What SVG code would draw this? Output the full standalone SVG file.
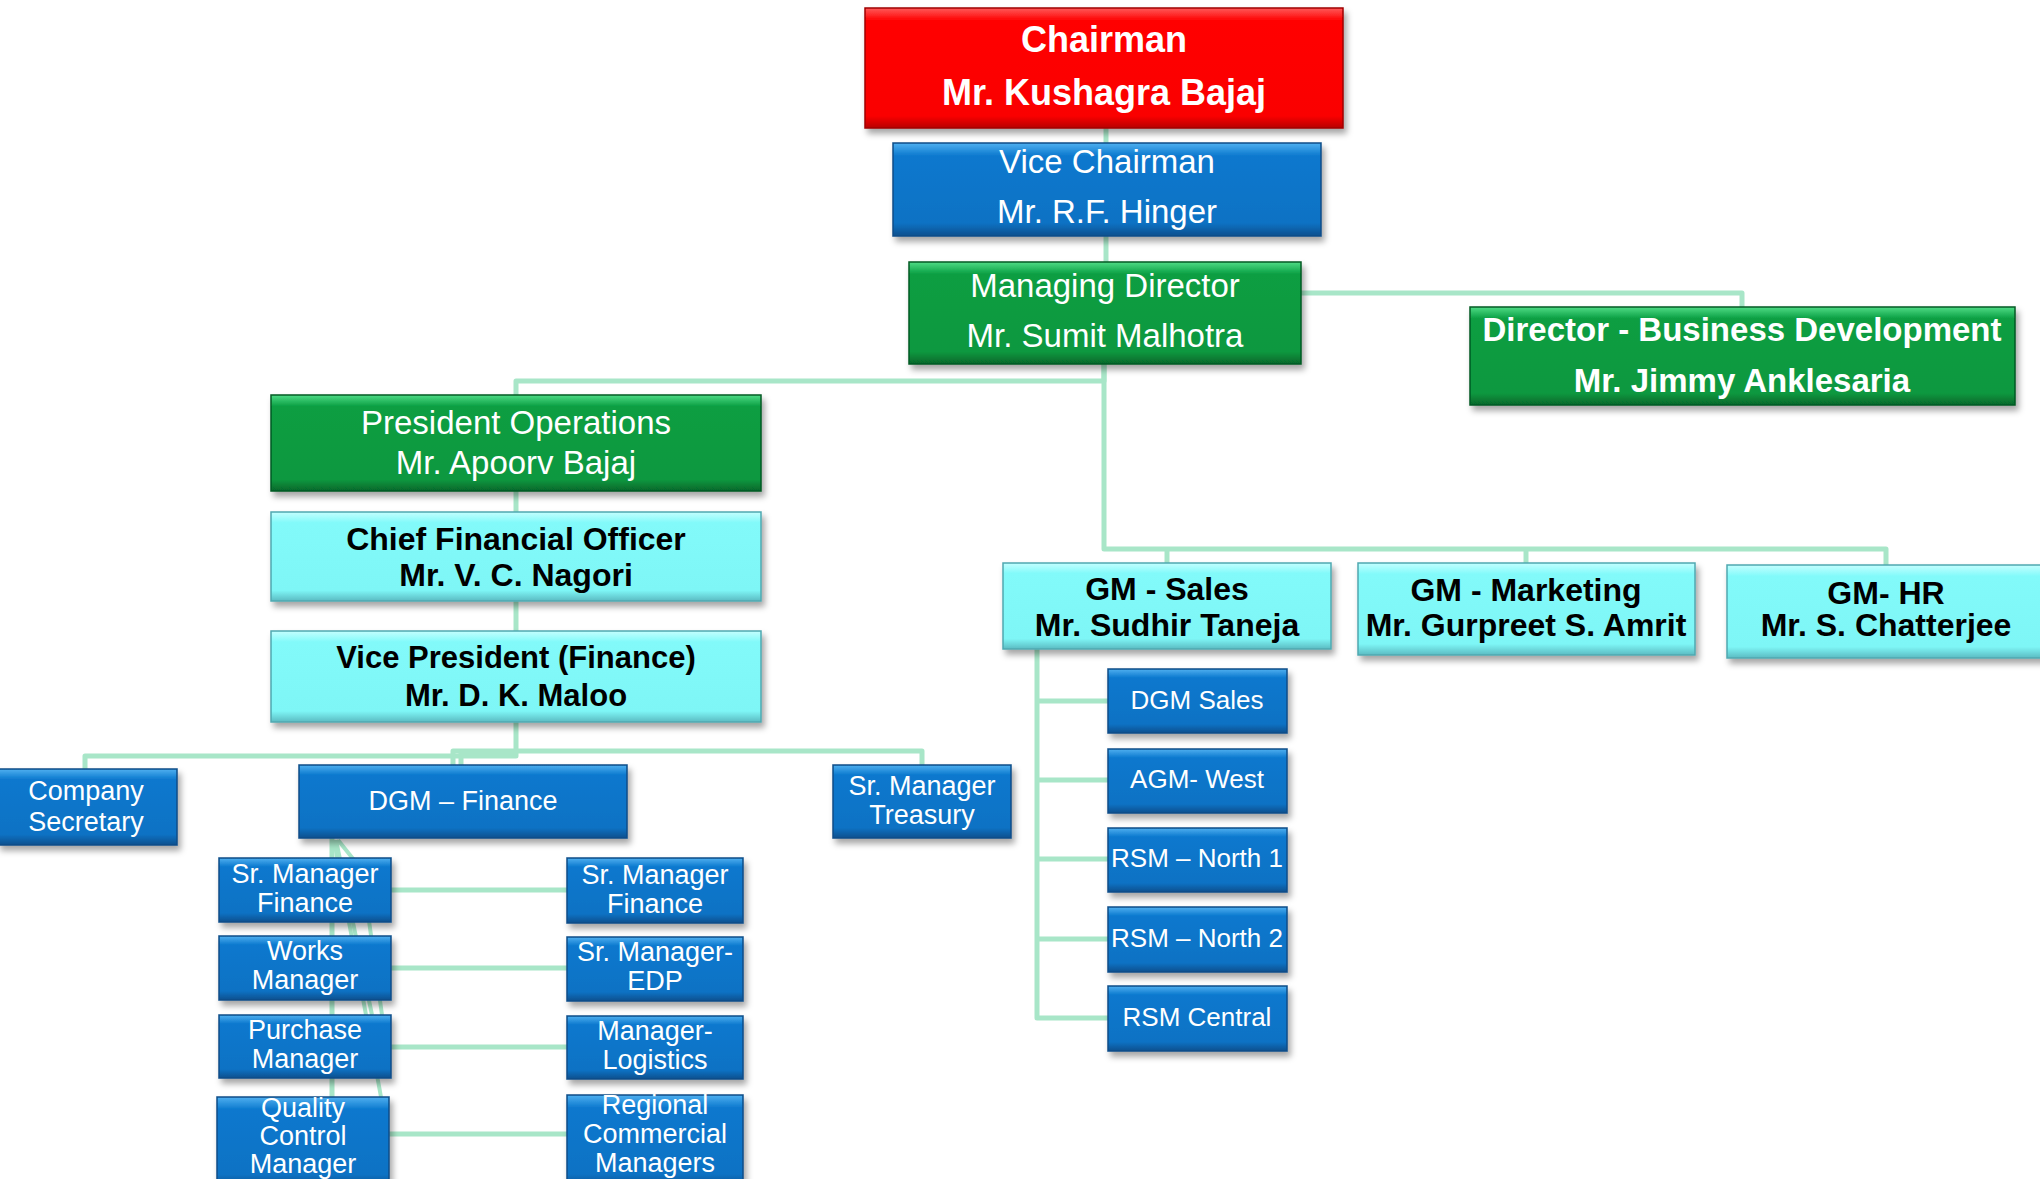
<svg xmlns="http://www.w3.org/2000/svg" width="2040" height="1179" viewBox="0 0 2040 1179">
<defs>
<linearGradient id="gBlue" x1="0" y1="0" x2="0" y2="1">
<stop offset="0" stop-color="#4FB0F0"/><stop offset="0.14" stop-color="#0B78CE"/><stop offset="0.86" stop-color="#0A72C4"/><stop offset="1" stop-color="#09508E"/>
</linearGradient>
<linearGradient id="gRed" x1="0" y1="0" x2="0" y2="1">
<stop offset="0" stop-color="#FF5A5A"/><stop offset="0.1" stop-color="#FF0606"/><stop offset="0.9" stop-color="#FA0505"/><stop offset="1" stop-color="#B80000"/>
</linearGradient>
<linearGradient id="gGreen" x1="0" y1="0" x2="0" y2="1">
<stop offset="0" stop-color="#4EDC86"/><stop offset="0.12" stop-color="#0A9E42"/><stop offset="0.88" stop-color="#09983F"/><stop offset="1" stop-color="#06672B"/>
</linearGradient>
<linearGradient id="gCyan" x1="0" y1="0" x2="0" y2="1">
<stop offset="0" stop-color="#C4FFFF"/><stop offset="0.12" stop-color="#82FAFA"/><stop offset="0.88" stop-color="#7EF6F6"/><stop offset="1" stop-color="#5BBBC2"/>
</linearGradient>
<filter id="sh" x="-10%" y="-10%" width="120%" height="140%">
<feDropShadow dx="3" dy="5" stdDeviation="3" flood-color="#000" flood-opacity="0.35"/>
</filter>
</defs>
<style>
.conn{fill:none;stroke:#A8E6C8;stroke-width:5;stroke-linejoin:round;stroke-linecap:butt}
.diag{fill:none;stroke:#A8E6C8;stroke-width:4}
.blue{fill:url(#gBlue);stroke:#0A4C88;stroke-width:1.5;filter:url(#sh)}
.red{fill:url(#gRed);stroke:#A00000;stroke-width:1.5;filter:url(#sh)}
.green{fill:url(#gGreen);stroke:#055A25;stroke-width:1.5;filter:url(#sh)}
.cyan{fill:url(#gCyan);stroke:#4FA8B0;stroke-width:1.5;filter:url(#sh)}
text{font-family:"Liberation Sans",Arial,sans-serif;text-anchor:middle}
.w{fill:#FFFFFF}
.k{fill:#000000}
.b{font-weight:bold}
.s36{font-size:36px}
.s33{font-size:33px}
.s32{font-size:32px}
.s31{font-size:31px}
.s27{font-size:27px}
.s26{font-size:26px}
</style>
<rect x="0" y="0" width="2040" height="1179" fill="#FFFFFF"/>
<g id="connectors">
<path class="conn" d="M1106,128 V143"/>
<path class="conn" d="M1106,235 V263"/>
<path class="conn" d="M1104,363 V381 H516 V395"/>
<path class="conn" d="M1104,363 V549 H1886 V565"/>
<path class="conn" d="M1167,549 V563"/>
<path class="conn" d="M1526,549 V563"/>
<path class="conn" d="M1300,293 H1742 V307"/>
<path class="conn" d="M516,491 V512"/>
<path class="conn" d="M516,601 V631"/>
<path class="conn" d="M516,722 V756 H85 V769"/>
<path class="conn" d="M453,765 V751 H922 V765"/>
<path class="conn" d="M461,765 V753 H516"/>
<path class="conn" d="M1037,649 V1018 H1108"/>
<path class="conn" d="M1037,701 H1108"/>
<path class="conn" d="M1037,780 H1108"/>
<path class="conn" d="M1037,859 H1108"/>
<path class="conn" d="M1037,939 H1108"/>
<path class="conn" d="M332,838 V1179"/>
<path class="diag" d="M334,840 L381,1097"/>
<path class="diag" d="M336,840 L372,1015"/>
<path class="diag" d="M338,840 L362,870 L382,1015"/>
<path class="conn" d="M390,890 H567"/>
<path class="conn" d="M390,968 H567"/>
<path class="conn" d="M390,1047 H567"/>
<path class="conn" d="M389,1134 H567"/>
</g>
<g id="chairman"><rect class="red" x="865" y="8" width="478" height="120"/>
<text class="w b s36" x="1104" y="52">Chairman</text><text class="w b s36" x="1104" y="105">Mr. Kushagra Bajaj</text></g>
<g id="vice-chairman"><rect class="blue" x="893" y="143" width="428" height="93"/>
<text class="w s33" x="1107" y="173">Vice Chairman</text><text class="w s33" x="1107" y="223">Mr. R.F. Hinger</text></g>
<g id="managing-director"><rect class="green" x="909" y="262" width="392" height="102"/>
<text class="w s33" x="1105" y="297">Managing Director</text><text class="w s33" x="1105" y="347">Mr. Sumit Malhotra</text></g>
<g id="director-bd"><rect class="green" x="1470" y="307" width="545" height="98"/>
<text class="w b s33" x="1742" y="341">Director - Business Development</text><text class="w b s33" x="1742" y="392">Mr. Jimmy Anklesaria</text></g>
<g id="president-operations"><rect class="green" x="271" y="395" width="490" height="96"/>
<text class="w s33" x="516" y="434">President Operations</text><text class="w s33" x="516" y="474">Mr. Apoorv Bajaj</text></g>
<g id="cfo"><rect class="cyan" x="271" y="512" width="490" height="89"/>
<text class="k b s32" x="516" y="550">Chief Financial Officer</text><text class="k b s32" x="516" y="586">Mr. V. C. Nagori</text></g>
<g id="vp-finance"><rect class="cyan" x="271" y="631" width="490" height="91"/>
<text class="k b s31" x="516" y="668">Vice President (Finance)</text><text class="k b s31" x="516" y="706">Mr. D. K. Maloo</text></g>
<g id="gm-sales"><rect class="cyan" x="1003" y="563" width="328" height="86"/>
<text class="k b s32" x="1167" y="600">GM - Sales</text><text class="k b s32" x="1167" y="636">Mr. Sudhir Taneja</text></g>
<g id="gm-marketing"><rect class="cyan" x="1358" y="563" width="337" height="92"/>
<text class="k b s32" x="1526" y="601">GM - Marketing</text><text class="k b s32" x="1526" y="636">Mr. Gurpreet S. Amrit</text></g>
<g id="gm-hr"><rect class="cyan" x="1727" y="565" width="320" height="93"/>
<text class="k b s32" x="1886" y="604">GM- HR</text><text class="k b s32" x="1886" y="636">Mr. S. Chatterjee</text></g>
<g id="company-secretary"><rect class="blue" x="-2" y="769" width="179" height="76"/>
<text class="w s27" x="86" y="800">Company</text><text class="w s27" x="86" y="831">Secretary</text></g>
<g id="dgm-finance"><rect class="blue" x="299" y="765" width="328" height="73"/>
<text class="w s27" x="463" y="810">DGM – Finance</text></g>
<g id="sr-manager-treasury"><rect class="blue" x="833" y="765" width="178" height="73"/>
<text class="w s27" x="922" y="795">Sr. Manager</text><text class="w s27" x="922" y="824">Treasury</text></g>
<g id="sr-manager-finance-1"><rect class="blue" x="219" y="858" width="172" height="64"/>
<text class="w s27" x="305" y="883">Sr. Manager</text><text class="w s27" x="305" y="912">Finance</text></g>
<g id="works-manager"><rect class="blue" x="219" y="936" width="172" height="64"/>
<text class="w s27" x="305" y="960">Works</text><text class="w s27" x="305" y="989">Manager</text></g>
<g id="purchase-manager"><rect class="blue" x="219" y="1015" width="172" height="63"/>
<text class="w s27" x="305" y="1039">Purchase</text><text class="w s27" x="305" y="1068">Manager</text></g>
<g id="qc-manager"><rect class="blue" x="217" y="1097" width="172" height="90"/>
<text class="w s27" x="303" y="1117">Quality</text><text class="w s27" x="303" y="1145">Control</text><text class="w s27" x="303" y="1173">Manager</text></g>
<g id="sr-manager-finance-2"><rect class="blue" x="567" y="858" width="176" height="65"/>
<text class="w s27" x="655" y="884">Sr. Manager</text><text class="w s27" x="655" y="913">Finance</text></g>
<g id="sr-manager-edp"><rect class="blue" x="567" y="937" width="176" height="64"/>
<text class="w s27" x="655" y="961">Sr. Manager-</text><text class="w s27" x="655" y="990">EDP</text></g>
<g id="manager-logistics"><rect class="blue" x="567" y="1016" width="176" height="63"/>
<text class="w s27" x="655" y="1040">Manager-</text><text class="w s27" x="655" y="1069">Logistics</text></g>
<g id="regional-commercial-managers"><rect class="blue" x="567" y="1095" width="176" height="92"/>
<text class="w s27" x="655" y="1114">Regional</text><text class="w s27" x="655" y="1143">Commercial</text><text class="w s27" x="655" y="1172">Managers</text></g>
<g id="dgm-sales"><rect class="blue" x="1108" y="669" width="179" height="64"/>
<text class="w s26" x="1197" y="709">DGM Sales</text></g>
<g id="agm-west"><rect class="blue" x="1108" y="749" width="179" height="64"/>
<text class="w s26" x="1197" y="788">AGM- West</text></g>
<g id="rsm-north-1"><rect class="blue" x="1108" y="828" width="179" height="64"/>
<text class="w s26" x="1197" y="867">RSM – North 1</text></g>
<g id="rsm-north-2"><rect class="blue" x="1108" y="907" width="179" height="65"/>
<text class="w s26" x="1197" y="947">RSM – North 2</text></g>
<g id="rsm-central"><rect class="blue" x="1108" y="986" width="179" height="65"/>
<text class="w s26" x="1197" y="1026">RSM Central</text></g>
</svg>
